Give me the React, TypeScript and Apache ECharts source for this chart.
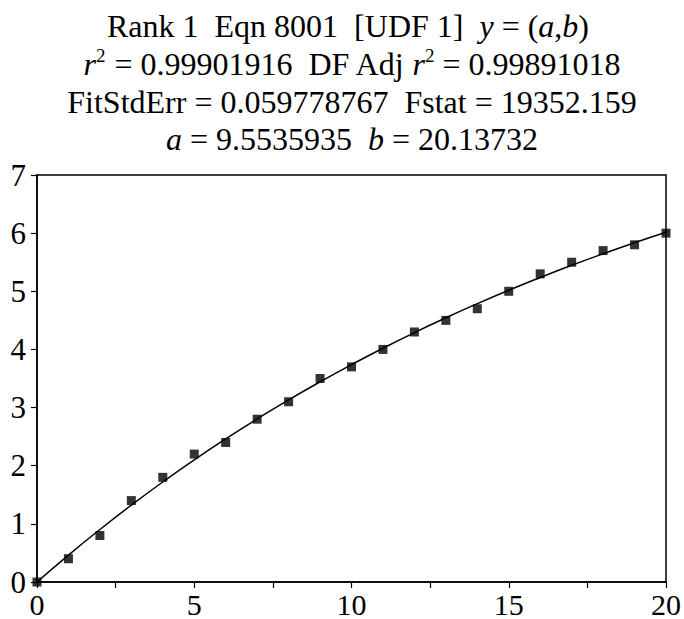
import React, { useEffect, useRef } from "react";
import * as echarts from "echarts";

const xValues = [0, 1, 2, 3, 4, 5, 6, 7, 8, 9, 10, 11, 12, 13, 14, 15, 16, 17, 18, 19, 20];
const yValues = [0, 0.4, 0.8, 1.4, 1.8, 2.2, 2.4, 2.8, 3.1, 3.5, 3.7, 4.0, 4.3, 4.5, 4.7, 5.0, 5.3, 5.5, 5.7, 5.8, 6.0];
const fitValues = [0, 0.463, 0.903, 1.322, 1.721, 2.101, 2.462, 2.805, 3.132, 3.443, 3.739, 4.021, 4.289, 4.544, 4.787, 5.018, 5.237, 5.447, 5.645, 5.835, 6.015];
const xTickLabels = ["0", "5", "10", "15", "20"];
const titleLines = [
  "{n|Rank 1  Eqn 8001  [UDF 1]  }{i|y}{n| = (}{i|a}{n|,}{i|b}{n|)}",
  "{i|r}{s|2}{n| = 0.99901916  DF Adj }{i|r}{s|2}{n| = 0.99891018}",
  "{n|FitStdErr = 0.059778767  Fstat = 19352.159}",
  "{i|a}{n| = 9.5535935  }{i|b}{n| = 20.13732}",
];

const FONT = "'Liberation Serif', 'Times New Roman', Times, serif";

export default function App() {
  const ref = useRef<HTMLDivElement>(null);
  useEffect(() => {
    if (!ref.current) return;
    const chart = echarts.init(ref.current, undefined, { renderer: "svg" });
    const rich = {
      n: { fontFamily: FONT, fontSize: 32, color: "#000", lineHeight: 36 },
      i: { fontFamily: FONT, fontSize: 32, color: "#000", fontStyle: "italic", lineHeight: 36 },
      s: { fontFamily: FONT, fontSize: 19, color: "#000", lineHeight: 20, verticalAlign: "top" },
    };
    const tops = [8, 46, 84, 121];
    chart.setOption({
      animation: false,
      backgroundColor: "#fff",
      title: titleLines.map((t, k) => ({
        text: t,
        left: k === 0 ? 348 : 352,
        top: tops[k],
        textAlign: "center",
        padding: 0,
        textStyle: { rich, fontFamily: FONT, fontSize: 32, fontWeight: "normal", color: "#000" },
      })),
      grid: {
        left: 37,
        right: 17,
        top: 175,
        bottom: 37,
        show: true,
        borderColor: "#000",
        borderWidth: 1.5,
        backgroundColor: "transparent",
      },
      xAxis: {
        type: "value",
        min: 0,
        max: 20,
        interval: 2.5,
        axisLine: { show: true, lineStyle: { color: "#000", width: 1.5 } },
        axisTick: { show: true, inside: false, length: 6, lineStyle: { color: "#000", width: 1.2 } },
        splitLine: { show: false },
        axisLabel: {
          color: "#000",
          fontFamily: FONT,
          fontSize: 30,
          lineHeight: 22,
          margin: 11,
          formatter: (v: number) => (xTickLabels.includes(String(v)) ? String(v) : ""),
        },
      },
      yAxis: {
        type: "value",
        min: 0,
        max: 7,
        interval: 1,
        axisLine: { show: true, lineStyle: { color: "#000", width: 1.5 } },
        axisTick: { show: true, inside: false, length: 6, lineStyle: { color: "#000", width: 1.2 } },
        splitLine: { show: false },
        axisLabel: { color: "#000", fontFamily: FONT, fontSize: 31, margin: 11 },
      },
      series: [
        {
          type: "line",
          data: xValues.map((x, k) => [x, fitValues[k]]),
          smooth: true,
          showSymbol: false,
          symbol: "none",
          lineStyle: { color: "#000", width: 1.5 },
          z: 2,
        },
        {
          type: "scatter",
          data: xValues.map((x, k) => [x, yValues[k]]),
          symbol: "rect",
          symbolSize: 9,
          itemStyle: { color: "#000" },
          z: 3,
        },
      ],
    });
    return () => chart.dispose();
  }, []);
  return (
    <div
      ref={ref}
      style={{ position: "fixed", left: 0, top: 0, width: 684, height: 619, background: "#fff" }}
    />
  );
}
